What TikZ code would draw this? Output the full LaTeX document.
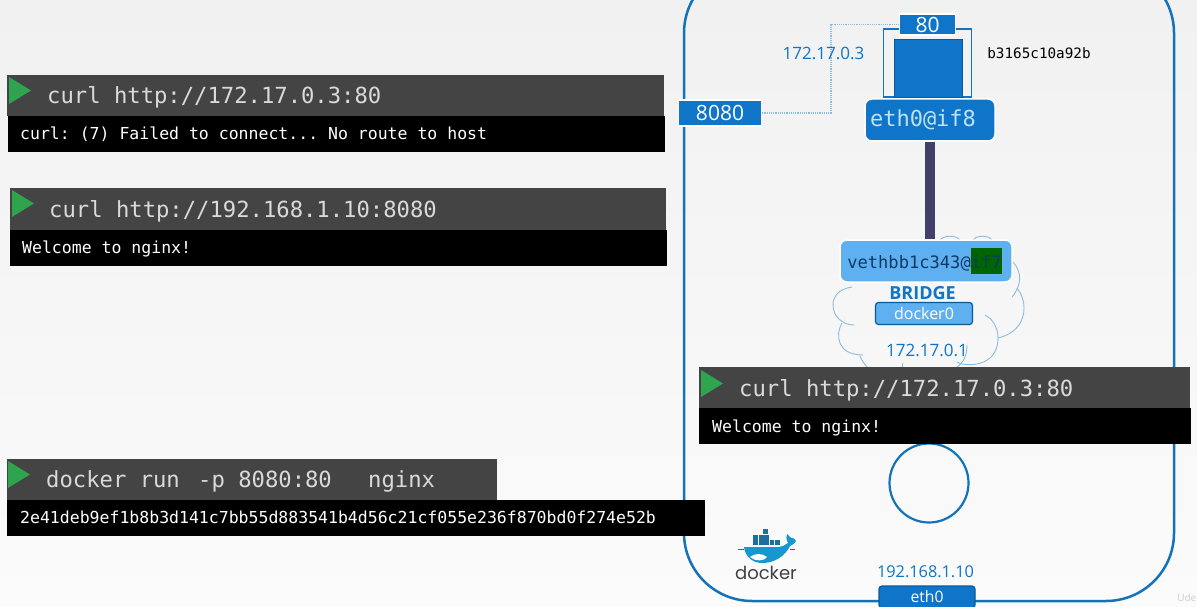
\documentclass[tikz,border=0pt]{standalone}
\usepackage{fontspec}
\setmainfont{Open Sans}
\setmonofont{DejaVu Sans Mono}
\newfontfamily\logofont{Poppins}
\definecolor{bgtop}{HTML}{F1F1F1}
\definecolor{bgbot}{HTML}{FBFBFB}
\definecolor{hostblue}{HTML}{1273BB}
\definecolor{boxblue}{HTML}{0F75C8}
\definecolor{darkblue}{HTML}{0B5A96}
\definecolor{paleblue}{HTML}{5FB0F0}
\definecolor{cloudblue}{HTML}{8FBBDB}
\definecolor{linkpurple}{HTML}{433F6B}
\definecolor{barbg}{HTML}{444444}
\definecolor{playgreen}{HTML}{2EA44F}
\definecolor{ifgreen}{HTML}{006400}
\definecolor{navytext}{HTML}{0B3A66}
\definecolor{cmdgrey}{HTML}{DADADA}
\definecolor{lighttext}{HTML}{BFE0F8}
\definecolor{whalebody}{HTML}{1597D0}
\definecolor{whaleblock}{HTML}{1C6F9E}
\tikzset{
    box/.style = {rectangle,inner sep=0pt},
    bar/.style = {box,fill=barbg},
    outbar/.style = {box,fill=black},
    cmdtext/.style = {anchor=base west,inner sep=0pt,text=cmdgrey,font=\ttfamily\fontsize{22.2}{26}\selectfont},
    outtext/.style = {anchor=base west,inner sep=0pt,text=white,font=\ttfamily\fontsize{16.5}{20}\selectfont},
    bluetext/.style = {inner sep=0pt,text=boxblue,font=\fontsize{17}{20}\selectfont},
    portbox/.style = {box,fill=boxblue,draw=white,line width=1.5pt,text=white,font=\fontsize{21}{24}\selectfont},
    cloudarc/.style = {cloudblue,line width=0.9pt},
}
\begin{document}
\begin{tikzpicture}[x=1pt,y=-1pt]
        \useasboundingbox (0,0) rectangle (1197,607);
        \shade [top color=bgtop,bottom color=bgbot] (0,0) rectangle (1197,607);
        \node [box,draw=hostblue,line width=2.5pt,rounded corners=68pt,minimum width=490pt,minimum height=636pt] (host) at (929,283) {};
        \node [circle,inner sep=0pt,draw=hostblue,line width=2.2pt,minimum size=79pt] (hostnic) at (929,483) {};

        \draw [cloudarc] (852,287) .. controls (838,289) and (833,297) .. (833,305) .. controls (833,316) and (842,325) .. (854,325);
        \draw [cloudarc] (842,323) .. controls (835,335) and (837,355) .. (863,355);
        \draw [cloudarc] (860,356) .. controls (862,361) and (865,365) .. (868,368);
        \draw [cloudarc] (902,368) .. controls (903,366) and (903,365) .. (903,363);
        \draw [cloudarc] (957,362) .. controls (965,367) and (998,368) .. (998,338) .. controls (998,328) and (993,319) .. (985,315);
        \draw [cloudarc] (998,338) .. controls (1018,333) and (1024,320) .. (1024,308) .. controls (1024,300) and (1021,293) .. (1017,288);
        \draw [cloudarc] (1012,297) .. controls (1022,285) and (1022,272) .. (1013,262);
        \draw [cloudarc] (940,240) .. controls (943,235) and (957,235) .. (960,240);
        \draw [cloudarc] (973,240) .. controls (976,235) and (989,235) .. (992,240);
        \draw [cloudarc] (957,367) .. controls (964,362) and (967,355) .. (967,345);

        \node [box,draw=boxblue,line width=1.2pt,minimum width=88pt,minimum height=68pt] (pod) at (927.5,63) {};
        \node [box,fill=boxblue,draw=darkblue,line width=0.8pt,minimum width=68pt,minimum height=58pt] (app) at (928.5,68) {};
        \node [portbox,minimum width=56pt,minimum height=21pt] (port80) at (927.5,24.5) {80};
        \node [portbox,minimum width=83pt,minimum height=26pt] (port8080) at (720,113) {8080};
        \coordinate (bend) at (831,24.5);
        \draw [cloudblue,line width=1.2pt,densely dotted] (port8080.east) -| (bend) -- (port80.west);
        \node [bluetext] (podip) at (823.5,53) {172.17.0.3};
        \node [inner sep=0pt,font=\ttfamily\fontsize{14.3}{17}\selectfont] (podid) at (1039,53) {b3165c10a92b};

        \node [box,fill=boxblue,draw=white,line width=1.5pt,rounded corners=7pt,minimum width=130pt,minimum height=42pt,text=lighttext,font=\ttfamily\fontsize{22}{26}\selectfont] (eth) at (930,120) {\raisebox{-1.5pt}{eth0@if8}\kern14pt};
        \setlength{\fboxsep}{0pt}
        \node [box,fill=paleblue,draw=white,line width=1.5pt,rounded corners=7pt,minimum width=172pt,minimum height=42pt,text=navytext,font=\ttfamily\fontsize{17.1}{20}\selectfont] (veth) at (926,261) {\kern-3pt vethbb1c343@\colorbox{ifgreen}{\rule[-6pt]{0pt}{26pt}if7}};
        \draw [linkpurple,line width=10pt] (eth.south) -- (eth.south |- veth.north);

        \node [inner sep=0pt,text=boxblue,font=\bfseries\fontsize{18}{21}\selectfont] (bridge) at (922.5,293) {BRIDGE};
        \node [box,fill=paleblue,draw=darkblue,line width=1.2pt,rounded corners=3pt,minimum width=97pt,minimum height=22pt,text=white,font=\fontsize{16}{19}\selectfont] (docker0) at (924,313.5) {docker0};
        \node [bluetext] (bridgeip) at (927,350) {172.17.0.1};

        \node [bluetext,font=\fontsize{16.3}{19}\selectfont] (hostip) at (925.5,572) {192.168.1.10};
        \node [box,fill=boxblue,draw=darkblue,line width=1.2pt,rounded corners=3pt,minimum width=96pt,minimum height=22pt,text=white,font=\fontsize{15.7}{18}\selectfont] (hosteth) at (927,597) {eth0};

        \foreach \x/\y/\n in {753/540/5,753/535/3,763/529/1}
            \foreach \i in {1,...,\n}
                \fill [whaleblock] ({\x-5+\i*5.4},\y) rectangle ++(4.8,5);
        \fill [whalebody] (744,547) -- (779,547) .. controls (782,547) and (785,545) .. (788,543) .. controls (786,539) and (786,536) .. (787,534) .. controls (789,536) and (790,537) .. (791,538) .. controls (793,537) and (795,539) .. (796,541) .. controls (794,544) and (792,545) .. (790,546) .. controls (785,556) and (775,563) .. (762,563) .. controls (752,563) and (745,556) .. (744,547) -- cycle;
        \fill [white] (750,557) .. controls (755,553) and (762,553) .. (767,557) .. controls (765,561) and (755,562) .. (750,557) -- cycle;
        \draw [whaleblock,line width=0.6pt] (738,549) -- (744,549) (790,549) -- (795,549);
        \node [inner sep=0pt,text=black!75,font=\logofont\fontsize{18}{20}\selectfont] (dockerlogo) at (766,573) {docker};
        \node [anchor=east,inner sep=0pt,text=black!20,font=\fontsize{10}{12}\selectfont] (mark) at (1196.5,598) {Ude};

        \node [bar,minimum width=657pt,minimum height=41pt] (bar1) at (335.5,95.5) {};
        \node [outbar,minimum width=657pt,minimum height=36pt] (out1) at (336.5,134) {};
        \node [cmdtext] (cmd1) at (47,104) {curl http://172.17.0.3:80};
        \node [outtext] (res1) at (20,140) {curl: (7) Failed to connect... No route to host};

        \node [bar,minimum width=656pt,minimum height=42pt] (bar2) at (338,209) {};
        \node [outbar,minimum width=657pt,minimum height=36pt] (out2) at (338.5,248) {};
        \node [cmdtext] (cmd2) at (49,217) {curl http://192.168.1.10:8080};
        \node [outtext] (res2) at (22,253) {Welcome to nginx!};

        \node [bar,minimum width=490pt,minimum height=41pt] (bar3) at (252,479.5) {};
        \node [outbar,minimum width=698pt,minimum height=36pt] (out3) at (356,518) {};
        \node [cmdtext] (cmd3) at (46,487) {docker run\hspace{5pt} -p 8080:80\hspace{23pt} nginx};
        \node [outtext] (res3) at (20,523) {2e41deb9ef1b8b3d141c7bb55d883541b4d56c21cf055e236f870bd0f274e52b};

        \node [bar,minimum width=491pt,minimum height=41pt] (bar4) at (944.5,387.5) {};
        \node [outbar,minimum width=492pt,minimum height=36pt] (out4) at (945,426) {};
        \node [cmdtext] (cmd4) at (739,396) {curl http://172.17.0.3:80};
        \node [outtext] (res4) at (712,432) {Welcome to nginx!};

        \foreach \x/\y in {9/77,12/190,8/461,701/370}
            \fill [playgreen] (\x,\y) -- ++(0,27) -- ++(22,-13.5) -- cycle;
    \end{tikzpicture}
\end{document}
